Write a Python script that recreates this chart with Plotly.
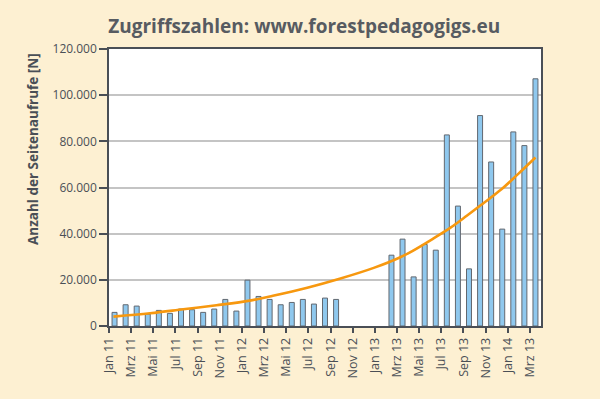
import plotly.graph_objects as go

months = ["Jan 11","Feb 11","Mrz 11","Apr 11","Mai 11","Jun 11","Jul 11","Aug 11","Sep 11","Okt 11","Nov 11","Dez 11",
          "Jan 12","Feb 12","Mrz 12","Apr 12","Mai 12","Jun 12","Jul 12","Aug 12","Sep 12","Okt 12","Nov 12","Dez 12",
          "Jan 13","Feb 13","Mrz 13","Apr 13","Mai 13","Jun 13","Jul 13","Aug 13","Sep 13","Okt 13","Nov 13","Dez 13",
          "Jan 14","Feb 14","Mrz 14"]
visits = [5900, 9200, 8630, 5180, 6760, 5470, 7340, 7050, 5900, 7340, 11510, 6470,
          19860, 12800, 11510, 9200, 10200, 11510, 9500, 12090, 11510, None, None, None,
          None, 30680, 37630, 21270, 35310, 32850, 82780, 51950, 24750, 91170, 71060, 41970,
          84080, 78150, 107090]

trend_x = [0.4, 3.7, 6.7, 9.7, 12.7, 14.8, 17.9, 20.9, 23.9, 26.3, 27.5, 29.3, 30.8, 32.3, 33.8, 35.4, 36.9, 38.5]
trend_y = [4060, 5500, 7250, 9000, 11000, 13100, 16600, 20580, 25180, 29800, 32800, 37950, 42480, 47740, 53200, 59100, 65700, 73000]

tick_labels = ["Jan 11","Mrz 11","Mai 11","Jul 11","Sep 11","Nov 11","Jan 12","Mrz 12","Mai 12","Jul 12",
               "Sep 12","Nov 12","Jan 13","Mrz 13","Mai 13","Jul 13","Sep 13","Nov 13","Jan 14","Mrz 13"]
y_ticks = [0, 20000, 40000, 60000, 80000, 100000, 120000]

bar_x = [i + 0.5 for i in range(len(months))]
tick_pos = [2 * i for i in range(len(tick_labels))]

ink = "#4a4f56"
fig = go.Figure()
fig.add_trace(go.Bar(x=bar_x, y=visits, width=0.45, text=months, hoverinfo="text+y", textposition="none",
                     marker=dict(color="#8fc8ee", line=dict(color="#626870", width=1))))
fig.add_trace(go.Scatter(x=trend_x, y=trend_y, mode="lines", line=dict(color="#f7980f", width=2.6, shape="spline")))

fig.update_layout(
    width=600, height=399,
    paper_bgcolor="#fdf0d2", plot_bgcolor="#ffffff",
    margin=dict(l=109, r=59, t=49, b=73),
    showlegend=False,
    separators=",.",
    font=dict(family="Open Sans, Noto Sans, sans-serif", color=ink, size=12),
    title=dict(text="<b>Zugriffszahlen: www.forestpedagogigs.eu</b>", x=0.507, xanchor="center",
               y=0.933, yanchor="middle", font=dict(size=19, color="#575b61")),
)
fig.add_annotation(text="<b>Anzahl der Seitenaufrufe [N]</b>", textangle=-90,
                   xref="paper", yref="paper", x=-0.176, y=0.639, xanchor="center", yanchor="middle",
                   showarrow=False,
                   font=dict(family="Open Sans, Noto Sans, sans-serif", size=13.5, color=ink))
fig.update_xaxes(range=[0, 39], tickmode="array", tickvals=tick_pos, ticktext=tick_labels,
                 tickangle=-90, ticks="outside", ticklen=5, tickwidth=1.5, tickcolor=ink,
                 showline=True, linecolor=ink, linewidth=1.5, mirror=True, showgrid=False,
                 tickfont=dict(size=12.5, color=ink), zeroline=False)
fig.update_yaxes(range=[0, 120000], tickmode="array", tickvals=y_ticks, tickformat=",.0f",
                 ticks="outside", ticklen=8, tickwidth=1.5, tickcolor=ink,
                 showline=True, linecolor=ink, linewidth=1.5, mirror=True,
                 showgrid=True, gridcolor="#c4c4c4", gridwidth=1.5, zeroline=False,
                 tickfont=dict(size=12, color=ink))

fig.write_html("out.html", config={"displayModeBar": False},
               post_script="document.body.style.margin='0';document.body.style.padding='0';")
